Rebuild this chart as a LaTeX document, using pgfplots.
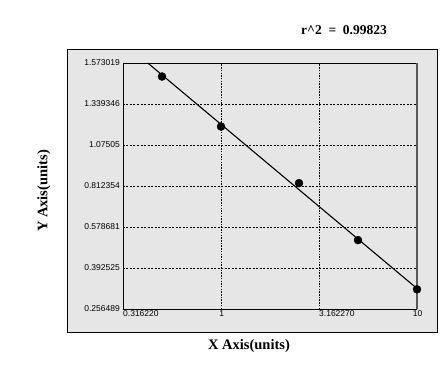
\documentclass[border=0pt]{standalone}
\usepackage{fontspec}
\setmainfont{Liberation Serif}
\setsansfont{Liberation Sans}
\usepackage{pgfplots}
\pgfplotsset{compat=1.18}
\definecolor{panel}{RGB}{230,230,230}
\begin{document}
\begin{tikzpicture}[x=1pt,y=1pt]
\path[use as bounding box] (0,0) rectangle (444,367);
\filldraw[fill=panel,draw=black,line width=0.8pt] (67,35) rectangle (437,318);
\node[font=\bfseries\fontsize{13.5}{13.5}\selectfont] at (344,337) {r\textasciicircum 2 \ = \ 0.99823};
\node[font=\bfseries\fontsize{14.5}{14.5}\selectfont] at (249,21) {X Axis(units)};
\node[font=\bfseries\fontsize{14.5}{14.5}\selectfont,rotate=90] at (44,176) {Y Axis(units)};
\begin{axis}[
  at={(123pt,58pt)}, anchor=south west,
  scale only axis, width=294pt, height=246pt,
  axis y line*=left,
  xmode=log, xmin=0.31622, xmax=10,
  ymin=0, ymax=6,
  xtick={0.31622,1,3.16227,10},
  xticklabels={0.316220,\makebox[0pt]{1},3.162270,\makebox[0pt]{10}},
  ytick={0,1,2,3,4,5,6},
  yticklabels={0.256489,0.392525,0.578681,0.812354,1.07505,1.339346,1.573019},
  minor xtick={},
  major tick length=0pt,
  tick label style={font=\sffamily\fontsize{8.5}{8.5}\selectfont},
  /pgf/number format/assume math mode=true,
  xticklabel style={anchor=north west, inner xsep=0pt, inner ysep=1pt},
  yticklabel style={anchor=east, inner xsep=3pt},
  grid=major,
  major grid style={black, line width=0.6pt, dash pattern=on 2pt off 1.5pt},
  x grid style={black, line width=0.9pt, dash pattern=on 1.5pt off 1.2pt},
  axis line style={black, line width=0.8pt, -},
  axis background/.style={fill=panel},
  clip=false,
]
\addplot[gray!70!black, line width=1.6pt, no marks] coordinates {(10,0) (10,6)};
\addplot[black, line width=1.1pt, no marks] coordinates {(0.423,6) (10,0.5)};
\addplot[only marks, mark=*, mark size=4pt, black] coordinates {
  (0.5,5.67) (1,4.45) (2.5,3.07) (5,1.68) (10,0.48)
};
\end{axis}
\end{tikzpicture}
\end{document}
